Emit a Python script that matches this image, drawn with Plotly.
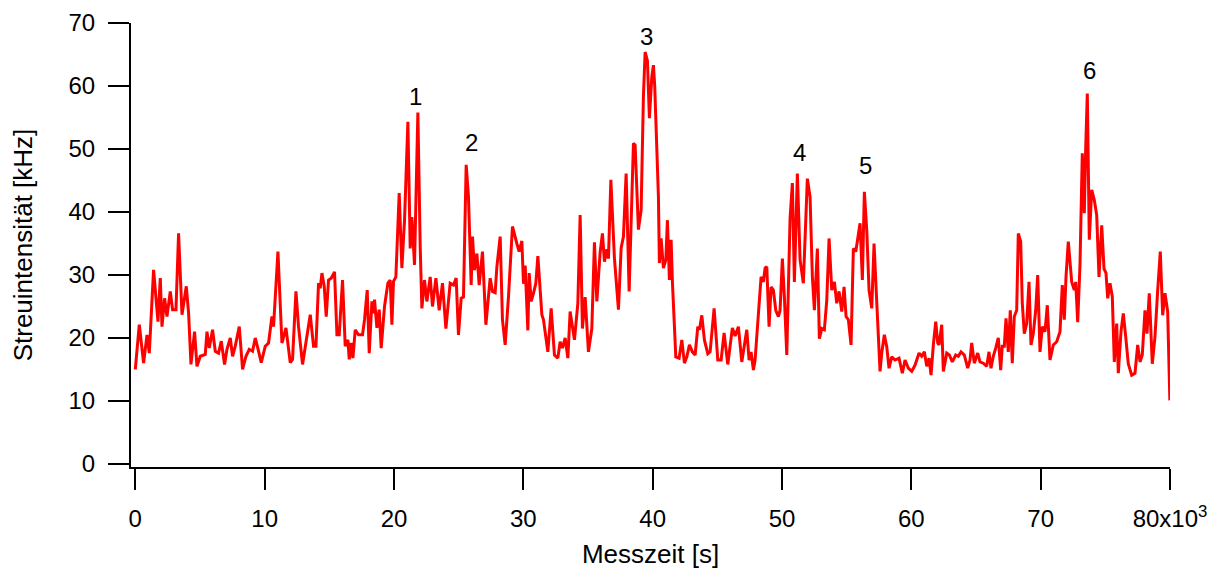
import plotly.graph_objects as go

# Messzeit [s]
t = [0, 309, 642, 904, 1082, 1414, 1754, 1932, 2064, 2265, 2450, 2705, 2883, 3146, 3347, 3610, 3942, 4120,
     4305, 4583, 4769, 5024, 5410, 5542, 5719, 5975, 6183, 6438, 6647, 6902, 7088, 7343, 7520, 7729, 8038,
     8294, 8556, 8811, 9066, 9275, 9530, 9739, 10048, 10303, 10566, 10689, 11029, 11339, 11648, 11980, 12158,
     12421, 12622, 12931, 13271, 13526, 13781, 13967, 14168, 14299, 14430, 14608, 14762, 14940, 15149, 15404,
     15590, 15767, 16022, 16231, 16439, 16540, 16695, 16826, 17004, 17259, 17568, 17723, 17932, 18086, 18295,
     18419, 18496, 18681, 18859, 19013, 19268, 19531, 19709, 19840, 19964, 20147, 20404, 20611, 20817, 21076,
     21255, 21386, 21587, 21848, 22028, 22158, 22360, 22545, 22801, 22978, 23241, 23496, 23751, 24014, 24346,
     24601, 24810, 24987, 25196, 25374, 25583, 25761, 25969, 26070, 26224, 26410, 26588, 26843, 27106, 27438,
     27615, 27824, 27956, 28211, 28388, 28597, 28852, 29161, 29501, 29679, 29888, 30013, 30144, 30350, 30453,
     30607, 30786, 30970, 31125, 31434, 31560, 31897, 32153, 32409, 32669, 32848, 33026, 33235, 33444, 33621,
     33953, 34216, 34394, 34572, 34781, 35036, 35298, 35500, 35685, 35940, 36118, 36273, 36458, 36583, 36769,
     37047, 37356, 37564, 37742, 37950, 38182, 38391, 38515, 38645, 38900, 39109, 39286, 39418, 39596, 39750,
     39936, 40060, 40160, 40447, 40520, 40655, 40833, 41019, 41142, 41297, 41428, 41528, 41683, 41791, 42046,
     42255, 42456, 42642, 42843, 43075, 43283, 43492, 43616, 43801, 44002, 44265, 44443, 44752, 45038, 45293,
     45524, 45810, 46165, 46374, 46629, 46892, 47278, 47456, 47611, 47789, 47920, 48129, 48384, 48562, 48693,
     48825, 49002, 49157, 49335, 49520, 49722, 49852, 50030, 50185, 50370, 50625, 50803, 50958, 51190, 51398,
     51653, 51962, 52171, 52349, 52504, 52736, 52890, 53076, 53277, 53463, 53640, 53849, 54050, 54235, 54413,
     54622, 54800, 54955, 55132, 55341, 55519, 55704, 55905, 56036, 56214, 56369, 56554, 56731, 56940, 57118,
     57327, 57581, 57713, 57914, 58100, 58277, 58486, 58741, 59050, 59305, 59514, 59769, 60033, 60290, 60599,
     60806, 61007, 61192, 61370, 61525, 61702, 61888, 62042, 62143, 62351, 62475, 62738, 62939, 63170, 63433,
     63634, 63842, 64097, 64360, 64537, 64669, 64870, 65133, 65310, 65565, 65828, 66006, 66160, 66338, 66523,
     66724, 66909, 67033, 67188, 67320, 67497, 67652, 67806, 67961, 68147, 68271, 68456, 68580, 68735, 68920,
     69098, 69253, 69431, 69616, 69771, 69949, 70127, 70336, 70513, 70722, 70977, 71240, 71495, 71673, 71828,
     71959, 72137, 72400, 72601, 72710, 72864, 73041, 73219, 73374, 73482, 73606, 73761, 73947, 74148, 74333,
     74511, 74720, 74898, 75052, 75184, 75361, 75539, 75694, 75879, 76003, 76211, 76389, 76574, 76775, 77038,
     77293, 77502, 77680, 77857, 78066, 78221, 78398, 78630, 78839, 79048, 79249, 79434, 79612, 79820, 79990]

# Streuintensität [kHz]
intensity = [15.0, 22.1, 16.0, 20.5, 17.6, 30.8, 22.6, 29.5, 21.8, 26.3, 23.4, 27.4, 24.5, 24.5, 36.6, 23.7, 28.2, 24.0,
             15.8, 21.0, 15.5, 17.1, 17.4, 21.0, 18.4, 21.3, 17.9, 17.6, 19.5, 15.8, 18.2, 20.0, 17.1, 18.7, 21.8,
             15.0, 17.1, 18.2, 17.9, 20.0, 17.9, 16.1, 18.7, 19.2, 23.4, 21.8, 33.7, 19.2, 21.6, 16.1, 16.6,
             27.4, 21.8, 15.8, 20.3, 23.7, 18.7, 18.7, 28.7, 27.9, 30.3, 28.2, 23.4, 29.2, 29.5, 30.5,
             20.5, 20.5, 29.2, 18.7, 19.7, 16.6, 19.2, 16.8, 21.3, 20.5, 20.5, 22.9, 27.6, 17.6, 25.8,
             23.9, 26.1, 21.6, 24.5, 18.4, 25.0, 28.7, 29.2, 22.1, 29.0, 29.7, 43.0, 31.1, 38.7, 54.3,
             34.2, 39.2, 31.6, 55.8, 34.5, 24.7, 29.2, 25.8, 29.7, 25.0, 29.5, 24.4, 28.7, 21.5, 28.7,
             28.4, 29.5, 20.5, 26.3, 26.5, 47.5, 42.4, 28.4, 36.1, 30.8, 33.4, 28.4, 33.7, 22.1, 29.5,
             27.4, 27.2, 31.3, 36.1, 22.9, 18.9, 26.5, 37.7, 35.0, 33.7, 35.4, 28.6, 31.5, 21.2, 30.3,
             25.8, 27.1, 28.7, 33.0, 23.7, 22.9, 17.8, 24.7, 17.3, 16.8, 19.4, 18.4, 20.0, 16.8, 24.2,
             19.7, 25.5, 39.5, 21.5, 26.5, 17.8, 21.5, 35.2, 25.8, 33.6, 36.6, 32.1, 34.1, 32.6, 45.1,
             32.6, 24.5, 34.3, 36.1, 46.1, 27.4, 40.1, 50.9, 50.6, 37.2, 40.3, 58.3, 65.4, 64.0, 54.9,
             61.5, 63.3, 60.0, 42.4, 31.9, 35.8, 31.1, 32.4, 38.7, 29.2, 35.6, 28.9, 21.3, 17.0, 16.8,
             19.7, 16.0, 17.0, 18.9, 17.8, 17.3, 21.8, 21.3, 23.6, 19.7, 17.5, 17.8, 24.7, 16.5, 16.5,
             20.8, 15.8, 21.6, 20.3, 21.8, 16.2, 21.3, 16.5, 17.8, 14.9, 16.5, 22.9, 29.7, 28.9, 31.1,
             31.3, 21.8, 28.1, 27.6, 24.4, 23.4, 24.4, 32.6, 26.5, 17.3, 39.0, 44.6, 28.9, 46.1, 32.4,
             28.7, 45.3, 42.4, 29.7, 24.4, 34.2, 19.9, 21.5, 21.3, 26.0, 35.8, 27.6, 28.9, 25.5, 27.4,
             24.2, 28.1, 23.4, 22.9, 18.9, 34.2, 33.7, 36.1, 38.2, 29.2, 43.2, 37.1, 27.6, 24.7, 35.0,
             25.7, 14.7, 17.6, 20.5, 18.6, 15.2, 17.0, 16.5, 16.8, 14.4, 16.5, 15.2, 14.7, 15.7, 17.6,
             17.1, 17.8, 15.5, 16.8, 14.1, 18.9, 22.6, 19.2, 18.9, 22.1, 14.7, 17.6, 17.3, 16.2, 17.3,
             17.1, 17.8, 17.3, 15.2, 16.5, 19.2, 16.0, 17.6, 16.2, 16.0, 15.5, 17.8, 15.2, 17.1, 18.4,
             20.0, 14.9, 18.7, 18.7, 23.1, 17.8, 24.4, 16.0, 23.4, 24.4, 36.6, 35.3, 25.5, 20.7, 22.3,
             28.9, 18.9, 20.7, 24.4, 30.0, 17.8, 21.8, 21.0, 25.2, 16.5, 18.9, 19.4, 21.0, 28.4, 22.9,
             29.7, 35.3, 28.9, 27.6, 28.9, 22.5, 31.6, 49.3, 39.8, 50.1, 58.8, 35.6, 43.5, 41.9, 39.5,
             29.7, 37.9, 31.0, 30.3, 26.3, 28.7, 26.6, 16.2, 22.3, 14.4, 21.0, 23.9, 20.2, 15.9, 14.1,
             14.4, 18.9, 16.2, 17.3, 24.4, 20.7, 27.1, 15.9, 20.2, 27.6, 33.7, 23.6, 27.1, 24.2, 10.1]

# peak labels
peak_names = ["1", "2", "3", "4", "5", "6"]
peak_t = [21640, 25970, 39500, 51360, 56430, 73780]
peak_y = [58.4, 51.0, 67.9, 49.4, 47.4, 62.4]

x_tickvals = [0, 10000, 20000, 30000, 40000, 50000, 60000, 70000, 80000]
x_ticktext = ["0", "10", "20", "30", "40", "50", "60", "70", "80x10<sup>3</sup>"]
y_tickvals = [0, 10, 20, 30, 40, 50, 60, 70]

FONT = "Liberation Sans, Arial, sans-serif"

fig = go.Figure()
fig.add_trace(go.Scatter(x=t, y=intensity, mode="lines",
                         line=dict(color="#ff0000", width=3), showlegend=False))

for name, px, py in zip(peak_names, peak_t, peak_y):
    fig.add_annotation(x=px, y=py, text=name, showarrow=False,
                       font=dict(family=FONT, size=24, color="black"))

# the page body has an 8px default margin, so the figure is drawn offset by (8, 8)
fig.update_layout(
    width=1212, height=563,
    margin=dict(l=123, r=50, t=15, b=104, autoexpand=False),
    paper_bgcolor="white", plot_bgcolor="white",
    font=dict(family=FONT, size=24, color="black"),
)
fig.update_xaxes(range=[-332, 80000], tickvals=x_tickvals, ticktext=x_ticktext,
                 showline=True, linecolor="black", linewidth=2, ticks="outside",
                 ticklen=21, tickwidth=2, tickcolor="black", showgrid=False, zeroline=False,
                 ticklabelstandoff=8, automargin=False,
                 title=dict(text="Messzeit [s]", font=dict(size=26), standoff=14))
fig.update_yaxes(range=[-0.48, 70], tickvals=y_tickvals,
                 showline=True, linecolor="black", linewidth=2, ticks="outside",
                 ticklen=21, tickwidth=2, tickcolor="black", showgrid=False, zeroline=False,
                 ticklabelstandoff=8, automargin=False,
                 title=dict(text="Streuintensität [kHz]", font=dict(size=26), standoff=31))

fig.write_html("out.html")
